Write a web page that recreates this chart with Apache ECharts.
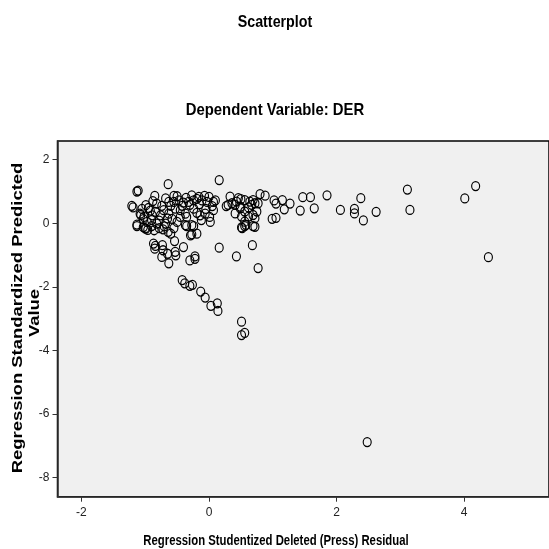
<!DOCTYPE html>
<html lang="en">
<head>
    <meta charset="utf-8">
    <title>Scatterplot</title>
    <script src="https://cdn.jsdelivr.net/npm/echarts@6/dist/echarts.min.js"></script>
    <style>
        html, body {margin: 0; padding: 0; background: #fff;}
    </style>
</head>
<body>
<div id="main" style="width: 549px;height:549px;"></div>
<script type="application/javascript">
    // studentized deleted residual (x) vs standardized predicted value (y)
    var mainCluster = [
        [-0.27, 0.88], [-0.16, 0.83], [-0.07, 0.86], [0.00, 0.83], [0.07, 0.67], [-0.99, 0.57], [-0.95, 0.48],
        [-0.82, 0.62], [-0.68, 0.78], [-0.63, 0.67], [-0.55, 0.67], [-0.47, 0.72], [-0.40, 0.65], [-0.32, 0.67],
        [-0.24, 0.72], [-0.19, 0.77], [-0.11, 0.72], [-0.03, 0.67], [0.05, 0.54], [-1.08, 0.30], [-1.02, 0.20],
        [-1.13, -0.04], [-0.97, 0.04], [-0.89, 0.25], [-0.84, 0.36], [-0.76, 0.25], [-0.71, 0.41], [-0.63, 0.30],
        [-0.82, -0.01], [-0.68, -0.01], [-0.53, 0.46], [-0.45, 0.41], [-0.37, 0.30], [-0.35, 0.20], [-0.24, 0.46],
        [-0.19, 0.33], [-0.14, 0.25], [-0.06, 0.30], [0.01, 0.20], [0.07, 0.41], [-0.27, -0.06], [-0.37, -0.06],
        [-0.50, 0.04], [-0.58, 0.14], [0.02, 0.04], [0.27, 0.54], [-1.07, 0.26], [-1.03, 0.13], [-1.00, -0.16],
        [-0.96, -0.21], [-0.90, 0.10], [-0.78, 0.08], [-0.74, 0.55], [-0.60, 0.55], [-0.42, 0.55], [-0.30, 0.58],
        [-0.15, 0.60], [-0.05, 0.45], [-0.45, 0.20], [-0.65, 0.15], [-0.92, 0.40], [-0.70, -0.10], [-0.55, -0.15],
        [-0.12, 0.10], [0.10, 0.72], [-0.50, 0.85], [-0.36, 0.80], [-0.88, 0.70], [-1.05, 0.45]
    ];
    var upperPoints = [
        [-1.13, 1.00], [-1.11, 1.03], [-1.21, 0.55], [-1.19, 0.50], [-0.64, 1.23], [-0.85, 0.86], [-0.55, 0.86],
        [0.16, 1.36], [0.33, 0.84], [0.36, 0.63], [0.46, 0.79], [0.56, 0.73], [0.64, 0.68], [0.69, 0.73],
        [0.49, 0.52], [0.56, 0.37], [0.62, 0.50], [0.67, 0.58], [0.72, 0.63], [0.41, 0.58], [0.51, 0.21],
        [0.62, 0.21], [0.69, 0.26], [0.56, 0.05], [0.77, 0.63], [0.75, 0.37], [0.72, 0.16], [0.72, -0.11],
        [0.30, 0.58], [0.43, 0.68], [0.50, 0.76], [0.41, 0.31], [0.49, 0.47], [0.51, -0.13], [0.58, -0.05]
    ];
    var middlePoints = [
        [-0.24, -0.09], [-0.27, -0.35], [-0.19, -0.33], [-0.22, -1.04], [0.16, -0.77], [0.52, -0.15],
        [0.56, -0.09], [0.69, -0.09], [-1.13, -0.09], [-1.03, -0.12], [-0.99, -0.17], [-0.90, -0.09],
        [-0.86, -0.22], [-0.78, -0.15], [-0.72, -0.19], [-0.64, -0.27], [-0.60, -0.33], [-0.87, -0.64],
        [-0.84, -0.71], [-0.85, -0.80], [-0.73, -0.69], [-0.72, -0.85], [-0.65, -0.96], [-0.74, -1.06],
        [-0.54, -0.56], [-0.53, -0.90], [-0.52, -1.01], [-0.40, -0.75], [-0.29, -0.38], [-0.35, -0.09]
    ];
    var lowerBranch = [
        [-0.63, -1.26], [-0.30, -1.17], [-0.22, -1.12], [0.43, -1.04], [-0.42, -1.79], [-0.38, -1.89],
        [-0.30, -1.97], [-0.26, -1.94], [-0.13, -2.15], [-0.06, -2.34], [0.03, -2.60], [0.13, -2.52],
        [0.14, -2.76], [0.51, -3.10], [0.51, -3.52], [0.56, -3.45]
    ];
    var rightTail = [
        [0.80, 0.92], [0.88, 0.87], [1.02, 0.72], [1.05, 0.62], [1.15, 0.73], [1.18, 0.44], [1.27, 0.62],
        [0.99, 0.14], [1.05, 0.17], [1.47, 0.82], [1.59, 0.82], [1.43, 0.40], [1.65, 0.47], [1.85, 0.88],
        [2.06, 0.42], [2.28, 0.45], [2.28, 0.31], [2.38, 0.79], [2.42, 0.09], [2.62, 0.36], [3.11, 1.06],
        [3.15, 0.42], [4.01, 0.78], [4.18, 1.17], [4.38, -1.07], [0.68, -0.69], [0.77, -1.41], [2.48, -6.89]
    ];
    var xTicks = [-2, 0, 2, 4];
    var yTicks = [-8, -6, -4, -2, 0, 2];

    var allPoints = mainCluster.concat(upperPoints, middlePoints, lowerBranch, rightTail);

    var chart = echarts.init(document.getElementById('main'));

    var option = {
        animation: false,
        backgroundColor: '#fff',
        grid: {
            left: 57.5, right: 0, top: 141, bottom: 52.3,
            show: true,
            backgroundColor: '#f0f0f0',
            borderColor: '#000',
            borderWidth: 1.5
        },
        xAxis: {
            type: 'value',
            min: -2.375, max: 5.33,
            axisLine: {show: true, onZero: false, lineStyle: {color: '#333', width: 1.5}},
            axisTick: {show: true, length: 5, customValues: xTicks, lineStyle: {color: '#333'}},
            axisLabel: {customValues: xTicks, color: '#222', fontSize: 12, fontFamily: 'Liberation Sans', margin: 10},
            splitLine: {show: false}
        },
        yAxis: {
            type: 'value',
            min: -8.61, max: 2.59,
            axisLine: {show: true, onZero: false, lineStyle: {color: '#333', width: 1.5}},
            axisTick: {show: true, length: 5, customValues: yTicks, lineStyle: {color: '#333'}},
            axisLabel: {customValues: yTicks, color: '#222', fontSize: 12, fontFamily: 'Liberation Sans', margin: 8},
            splitLine: {show: false}
        },
        graphic: [
            {type: 'text', x: 275, y: 22, scaleX: 0.84, style: {text: 'Scatterplot', font: 'bold 17px "Liberation Sans"', fill: '#000', textAlign: 'center', textVerticalAlign: 'middle'}},
            {type: 'text', x: 275, y: 110, scaleX: 0.875, style: {text: 'Dependent Variable: DER', font: 'bold 17px "Liberation Sans"', fill: '#000', textAlign: 'center', textVerticalAlign: 'middle'}},
            {type: 'text', x: 276, y: 541, scaleX: 0.81, style: {text: 'Regression Studentized Deleted (Press) Residual', font: 'bold 14px "Liberation Sans"', fill: '#000', textAlign: 'center', textVerticalAlign: 'middle'}},
            {type: 'text', x: 18, y: 318, rotation: Math.PI / 2, scaleX: 1.23, style: {text: 'Regression Standardized Predicted', font: 'bold 15px "Liberation Sans"', fill: '#000', textAlign: 'center', textVerticalAlign: 'middle'}},
            {type: 'text', x: 35, y: 313, rotation: Math.PI / 2, scaleX: 1.23, style: {text: 'Value', font: 'bold 15px "Liberation Sans"', fill: '#000', textAlign: 'center', textVerticalAlign: 'middle'}}
        ],
        series: [{
            type: 'scatter',
            data: allPoints,
            symbol: 'circle',
            symbolSize: [8, 9],
            itemStyle: {color: 'rgba(0,0,0,0)', borderColor: '#000', borderWidth: 1.2, opacity: 1},
            emphasis: {disabled: true}
        }]
    };

    chart.setOption(option);
</script>
</body>
</html>
